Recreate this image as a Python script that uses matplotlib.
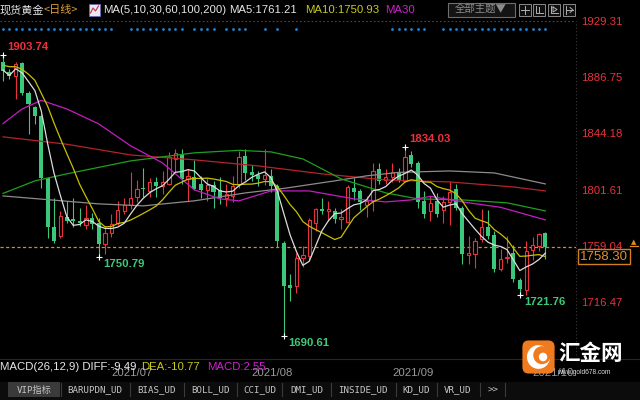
import matplotlib
matplotlib.use("Agg")
import matplotlib.pyplot as plt
import matplotlib.transforms as mtransforms
from matplotlib.patches import Rectangle, FancyBboxPatch, Circle
from matplotlib.lines import Line2D
import numpy as np

# ---------------- data (daily spot gold, 2021-06-08 .. 2021-10-05) ----------------
opens = [1898, 1890.5, 1887.5, 1897, 1875, 1864, 1857, 1810.5, 1773, 1766.5,
         1781, 1779, 1778, 1775, 1780, 1776.5, 1760.3, 1769, 1776.5, 1785.5,
         1790, 1796, 1803, 1800.5, 1807, 1804.5, 1806, 1825, 1828.5, 1809.5,
         1811, 1806, 1801, 1805, 1801, 1795, 1797, 1805.7, 1827, 1815,
         1812.5, 1809.5, 1812, 1804, 1761.5, 1729.5, 1729, 1750, 1751.5, 1776,
         1787, 1785.5, 1785.5, 1779, 1777, 1803, 1800.5, 1790, 1793, 1817,
         1808.5, 1811, 1815, 1808, 1828, 1822, 1793, 1785.5, 1793, 1786,
         1792, 1802, 1788, 1752, 1753, 1764, 1773, 1767, 1741.5, 1750,
         1754, 1733, 1726, 1755.8, 1759, 1769]
highs = [1903.74, 1893, 1898, 1898, 1876.5, 1865, 1859, 1811, 1795.5, 1785.5,
         1793, 1795, 1788, 1790, 1784, 1780, 1773, 1783, 1793, 1795,
         1815, 1809, 1818, 1810.5, 1811, 1816, 1830, 1832.5, 1832, 1817,
         1824, 1812, 1810, 1808, 1811, 1806, 1812, 1831, 1832, 1820,
         1816, 1832, 1817, 1806, 1763, 1738, 1754, 1759, 1780, 1788,
         1795, 1793, 1788, 1787, 1805, 1810, 1802, 1797, 1822, 1822,
         1817, 1822, 1818, 1834.03, 1831, 1823, 1800.5, 1797, 1799, 1797,
         1808, 1806, 1789, 1766.5, 1765, 1787, 1786, 1770, 1757, 1766.5,
         1760, 1735, 1763, 1766, 1769, 1769.5]
lows = [1884, 1885, 1870, 1873.5, 1844, 1851.5, 1803, 1765, 1761.5, 1765,
        1776.5, 1773, 1774, 1772, 1772, 1750.79, 1753, 1766, 1775, 1783,
        1787, 1792, 1796, 1796, 1796, 1798, 1805, 1815, 1806, 1793,
        1801, 1795, 1793, 1788, 1791, 1789, 1792, 1803, 1809, 1808,
        1804, 1805, 1800, 1758, 1690.61, 1717.5, 1723.5, 1743, 1748, 1770,
        1783, 1778, 1776.5, 1772, 1776, 1794, 1786, 1781, 1785.5, 1806,
        1806, 1807, 1807, 1807, 1819, 1788, 1780, 1778, 1781, 1776,
        1775, 1786, 1745, 1745, 1742.5, 1762, 1764, 1739, 1740, 1746,
        1732, 1721.76, 1722, 1748, 1755, 1749]
closes = [1891, 1887.5, 1896.5, 1875, 1866, 1857, 1810.5, 1773, 1763, 1781.5,
          1778, 1777.5, 1776, 1780.5, 1775.5, 1760.3, 1769, 1775.5, 1786, 1790,
          1795.5, 1802, 1802, 1807, 1804.5, 1807, 1826, 1829, 1809.5, 1812,
          1802, 1801, 1805, 1800, 1795, 1798, 1804, 1826, 1814, 1812.5,
          1809.5, 1813, 1804, 1763, 1729, 1727.5, 1750, 1752, 1778.5, 1787,
          1785.5, 1787, 1779, 1781, 1803.5, 1800, 1792, 1793, 1815.5, 1808,
          1811, 1815, 1809, 1826, 1821, 1792, 1783, 1791.5, 1783, 1792,
          1800, 1788, 1753, 1754, 1763, 1773, 1766.5, 1741.5, 1749, 1751,
          1734, 1726.3, 1755.3, 1760, 1768, 1758.3]
prev_closes = [1898, 1897, 1895, 1903, 1903, 1908, 1871, 1891, 1899]

# long moving averages (candle index, value)
ma30_idx = [0, 3, 6, 10, 15, 20, 25, 30, 34, 37, 42, 48, 55, 60, 64, 67, 72, 78, 85]
ma30_val = [1851.5, 1862.6, 1869.1, 1862.6, 1851.3, 1834.7, 1821.8, 1801.4, 1794.6, 1793.1,
            1800.6, 1800.6, 1794.6, 1792.3, 1793.8, 1796.5, 1792.3, 1788.2, 1778.7]
ma60_idx = [0, 5, 10, 20, 30, 37, 42, 47, 53, 60, 65, 72, 79, 85]
ma60_val = [1798.7, 1808.2, 1813.5, 1823.3, 1829.4, 1831.3, 1830.1, 1824.8, 1809.7, 1799.1,
            1794.6, 1793.8, 1791.6, 1785.5]
ma100_idx = [0, 15, 22, 30, 38, 44, 52, 57, 62, 70, 77, 85]
ma100_val = [1796.8, 1790.8, 1789.3, 1793.1, 1799.1, 1802.5, 1808.2, 1812.0, 1814.6, 1815.7,
             1814.2, 1805.9]
ma200_idx = [0, 10, 20, 30, 40, 50, 60, 70, 80, 85]
ma200_val = [1841.5, 1835.9, 1827.8, 1824.1, 1819.5, 1813.5, 1808.9, 1807.4, 1803.6, 1800.6]

event_idx = (list(range(0, 18)) + list(range(20, 29)) + [30, 31, 32, 33] + [35, 36, 37, 38]
             + [41, 43, 46] + list(range(61, 67)) + list(range(69, 86)))
month_labels = ["2021/07", "2021/08", "2021/09", "2021/10"]
month_idx = [17, 39, 61, 83]
price_ticks = [1716.47, 1759.04, 1801.61, 1844.18, 1886.75, 1929.31]
high_marks = [0, 63]
low_marks = [15, 44, 81]
last_price = 1758.30
ma5_text, ma10_text = "1761.21", "1750.93"
diff_v, dea_v, macd_v = "-9.49", "-10.77", "2.55"
tabs = ["VIP指标", "BARUPDN_UD", "BIAS_UD", "BOLL_UD", "CCI_UD", "DMI_UD",
        "INSIDE_UD", "KD_UD", "VR_UD", ">>"]

# ---------------- style ----------------
plt.rcParams['font.family'] = ['Liberation Sans', 'Noto Sans CJK SC', 'DejaVu Sans']
RED = '#e8323c'
GREEN = '#3cc87c'
WHITE = '#e6e6e6'
YELLOW = '#c8c81e'
MAGENTA = '#d21ed2'
ORANGE = '#dc8c1e'
GRAY = '#a8a8a8'

W, H = 640, 400
fig = plt.figure(figsize=(6.4, 4), dpi=100, facecolor='black')


def fx(px):
    return px / W


def fy(py):
    return 1 - py / H


PX_TOP, PX_BOT, AX_RIGHT = 20.7, 355, 576
STEP, X0 = 6.38, 3.0
SCALE = 1.3225  # px per dollar

ax = fig.add_axes([0, fy(PX_BOT), fx(AX_RIGHT), (PX_BOT - PX_TOP) / H])
ax.set_facecolor('black')
ax.set_xlim(-X0 / STEP, (AX_RIGHT - X0) / STEP)
top_price = price_ticks[-1]
ax.set_ylim(top_price - (PX_BOT - PX_TOP) / SCALE, top_price)
for s in ax.spines.values():
    s.set_visible(False)
ax.set_xticks([])
ax.yaxis.tick_right()
ax.set_yticks(price_ticks)
ax.set_yticklabels([f"{v:.2f}" for v in price_ticks])
ax.tick_params(axis='y', length=0, pad=4, labelcolor=RED, labelsize=8.2)

o = np.array(opens)
h = np.array(highs)
l = np.array(lows)
c = np.array(closes)
n = len(c)
x = np.arange(n)
up = c >= o

# candles
body_up = np.maximum(c - o, 0.6)
body_dn = np.maximum(o - c, 0.6)
ax.vlines(x[up], l[up], o[up], color=RED, lw=0.8, zorder=2)
ax.vlines(x[up], c[up], h[up], color=RED, lw=0.8, zorder=2)
ax.bar(x[up], body_up[up], bottom=o[up], width=0.52, facecolor='black',
       edgecolor=RED, linewidth=0.8, zorder=2.5)
ax.vlines(x[~up], l[~up], h[~up], color=GREEN, lw=0.8, zorder=2)
ax.bar(x[~up], body_dn[~up], bottom=c[~up], width=0.64, color=GREEN,
       linewidth=0, zorder=2.5)

# moving averages
all_c = np.array(prev_closes + closes, dtype=float)
ma5 = np.convolve(all_c, np.ones(5) / 5, 'valid')[-n:]
ma10 = np.convolve(all_c, np.ones(10) / 10, 'valid')[-n:]
ax.plot(ma200_idx, ma200_val, color='#b4232a', lw=0.9, zorder=3)
ax.plot(ma100_idx, ma100_val, color='#8c8c8c', lw=0.9, zorder=3)
ax.plot(ma60_idx, ma60_val, color='#1ea01e', lw=0.9, zorder=3)
ax.plot(ma30_idx, ma30_val, color='#c21ec2', lw=0.9, zorder=3)
ax.plot(x, ma10, color='#c8c000', lw=0.9, zorder=3.2)
ax.plot(x, ma5, color='#dcdcdc', lw=0.9, zorder=3.3)

# reference lines
ax.axhline(top_price, color='#4a4a4a', lw=0.8, ls=(0, (1.5, 2)), zorder=1)
ax.axhline(last_price, color=ORANGE, lw=0.9, ls=(0, (2.5, 2)), zorder=1)
ax.plot([1, 1], [0, 1], transform=ax.transAxes, color='#3a3a3a', lw=0.8,
        ls=(0, (1, 2)), clip_on=False)

# extreme labels
for i in high_marks:
    ax.plot(i, h[i], marker='+', color='white', ms=5, mew=0.8, zorder=4, clip_on=False)
    ax.annotate(f"{h[i]:.2f}", (i, h[i]), xytext=(3, 2), textcoords='offset points',
                ha='left', va='bottom', color=RED, fontsize=8.2, fontweight='bold')
for i in low_marks:
    ax.plot(i, l[i], marker='+', color='white', ms=5, mew=0.8, zorder=4, clip_on=False)
    ax.annotate(f"{l[i]:.2f}", (i, l[i]), xytext=(3.5, -1.5), textcoords='offset points',
                ha='left', va='top', color=GREEN, fontsize=8.2, fontweight='bold')

blend = mtransforms.blended_transform_factory(ax.transData, fig.transFigure)

# event dots
ax.plot(event_idx, [fy(29.3)] * len(event_idx), transform=blend, ls='', marker='o',
        ms=2.0, color='#1f86d6', mec='none', clip_on=False)

# ---------------- header ----------------
cjk = ['Noto Sans CJK SC', 'DejaVu Sans']
fig.text(fx(0), fy(10), "现货黄金", color=WHITE, fontsize=8, va='center', family=cjk)
fig.text(fx(44), fy(10), "<日线>", color='#e0a03c', fontsize=8, va='center', family=cjk)
fig.patches.append(Rectangle((fx(89), fy(16)), 11 / W, 12 / H, transform=fig.transFigure,
                             facecolor='#e8e8f8', edgecolor='#6a6ab0', lw=0.6))
fig.lines.append(Line2D([fx(90.5), fx(93), fx(95.5), fx(98.5)], [fy(13), fy(8), fy(11), fy(6)],
                        transform=fig.transFigure, color='#d03030', lw=0.8))
fig.text(fx(103), fy(10), "MA(5,10,30,60,100,200)", color=WHITE, fontsize=8.2, va='center')
fig.text(fx(229), fy(10), f"MA5:{ma5_text}", color=WHITE, fontsize=8.2, va='center')
fig.text(fx(305), fy(10), f"MA10:{ma10_text}", color=YELLOW, fontsize=8.2, va='center')
fig.text(fx(385), fy(10), "MA30", color=MAGENTA, fontsize=8.2, va='center')

fig.patches.append(Rectangle((fx(448), fy(17)), 67 / W, 14 / H, transform=fig.transFigure,
                             facecolor='#141414', edgecolor='#6e6e6e', lw=0.8))
fig.text(fx(481), fy(10), "全部主题▼", color='#8c8c8c', fontsize=7.5, va='center',
         ha='center', family=cjk)
for bx in [519, 533, 548, 563]:
    fig.patches.append(Rectangle((fx(bx), fy(16)), 12 / W, 12 / H, transform=fig.transFigure,
                                 facecolor='#101010', edgecolor='#8a8a8a', lw=0.7))
icon_col = '#b0b0b0'
fig.lines.append(Line2D([fx(521), fx(529)], [fy(10), fy(10)], transform=fig.transFigure, color=icon_col, lw=0.7))
fig.lines.append(Line2D([fx(525), fx(525)], [fy(6), fy(14)], transform=fig.transFigure, color=icon_col, lw=0.7))
fig.lines.append(Line2D([fx(536), fx(536), fx(543)], [fy(6), fy(13), fy(13)], transform=fig.transFigure, color=icon_col, lw=0.7))
fig.lines.append(Line2D([fx(539), fx(539)], [fy(7), fy(12)], transform=fig.transFigure, color=icon_col, lw=0.7))
fig.lines.append(Line2D([fx(551), fx(551), fx(558)], [fy(6), fy(13), fy(13)], transform=fig.transFigure, color=icon_col, lw=0.7))
fig.lines.append(Line2D([fx(553), fx(557), fx(553), fx(553)], [fy(7), fy(9.5), fy(12), fy(7)], transform=fig.transFigure, color=icon_col, lw=0.7))
fig.lines.append(Line2D([fx(566), fx(566)], [fy(6), fy(14)], transform=fig.transFigure, color=icon_col, lw=0.7))
fig.lines.append(Line2D([fx(566), fx(573)], [fy(10), fy(10)], transform=fig.transFigure, color=icon_col, lw=0.7))
fig.lines.append(Line2D([fx(570), fx(573), fx(570)], [fy(7.5), fy(10), fy(12.5)], transform=fig.transFigure, color=icon_col, lw=0.7))

# current price box and marker
fig.text(fx(580), fy(256.5), f"{last_price:.2f}", color='#e0902a', fontsize=9.5, va='center',
         ha='left', zorder=6,
         bbox=dict(boxstyle='square,pad=0.15', facecolor='black', edgecolor='#d08020', lw=1.0))
fig.text(fx(634), fy(242), "▲", color=ORANGE, fontsize=5, ha='center', va='center', family=['DejaVu Sans'])
fig.lines.append(Line2D([fx(630), fx(638)], [fy(245.5), fy(245.5)], transform=fig.transFigure,
                        color=ORANGE, lw=0.9))

# ---------------- bottom ----------------
fig.lines.append(Line2D([0, 1], [fy(359), fy(359)], transform=fig.transFigure, color='#262626', lw=0.8))
for lab, mi in zip(month_labels, month_idx):
    fig.text(mi, fy(372.5), lab, transform=blend, color='#9a9a9a', fontsize=8.2,
             ha='left', va='center', zorder=2)
fig.text(fx(0), fy(367), f"MACD(26,12,9) DIFF:{diff_v}", color=WHITE, fontsize=8.2, va='center', zorder=3)
fig.text(fx(141), fy(367), f"DEA:{dea_v}", color=YELLOW, fontsize=8.2, va='center', zorder=3)
fig.text(fx(207), fy(367), f"MACD:{macd_v}", color=MAGENTA, fontsize=8.2, va='center', zorder=3)

# tab bar
fig.patches.append(Rectangle((0, 0), 1, fy(381.5), transform=fig.transFigure,
                             facecolor='#0c0c0c', edgecolor='none', zorder=4))
fig.lines.append(Line2D([0, 1], [fy(381.5), fy(381.5)], transform=fig.transFigure, color='#2c2c2c', lw=0.8, zorder=4))
fig.patches.append(Rectangle((fx(8), fy(397)), 52 / W, 15 / H, transform=fig.transFigure,
                             facecolor='#3a3a3a', edgecolor='none', zorder=4.5))
tab_centers = [34, 95, 157, 210, 260, 307, 363, 416, 458, 493]
for t, tc in zip(tabs, tab_centers):
    fig.text(fx(tc), fy(390), t, color='#c4c4c4', fontsize=6.6, ha='center', va='center',
             family=['DejaVu Sans Mono', 'Noto Sans CJK SC'], zorder=5)
for sx in [60.5, 130, 183.5, 237, 282, 331, 395.5, 436.5, 479.5, 505]:
    fig.lines.append(Line2D([fx(sx), fx(sx)], [fy(383), fy(396)], transform=fig.transFigure,
                            color='#3c3c3c', lw=0.8, zorder=5))

# logo
lax = fig.add_axes([fx(521), fy(375), 35 / W, 36 / H])
lax.set_zorder(7)
lax.set_xlim(0, 1)
lax.set_ylim(0, 1)
lax.axis('off')
lax.add_patch(FancyBboxPatch((0.04, 0.04), 0.92, 0.92, boxstyle='round,pad=0,rounding_size=0.18',
                             facecolor='#f07a1e', edgecolor='none'))
lax.add_patch(Circle((0.5, 0.5), 0.33, facecolor='white', edgecolor='none'))
lax.add_patch(Circle((0.6, 0.55), 0.25, facecolor='#f07a1e', edgecolor='none'))
lax.add_patch(Circle((0.63, 0.5), 0.12, facecolor='white', edgecolor='none'))
fig.text(fx(558), fy(354), "汇金网", color='white', fontsize=15.5, fontweight='bold',
         va='center', ha='left', family=cjk, zorder=7)
fig.text(fx(557), fy(373), "www.gold678.com", color='#dddddd', fontsize=4.8, va='center',
         ha='left', zorder=7)

fig.savefig('out.png', dpi=100, facecolor='black')
